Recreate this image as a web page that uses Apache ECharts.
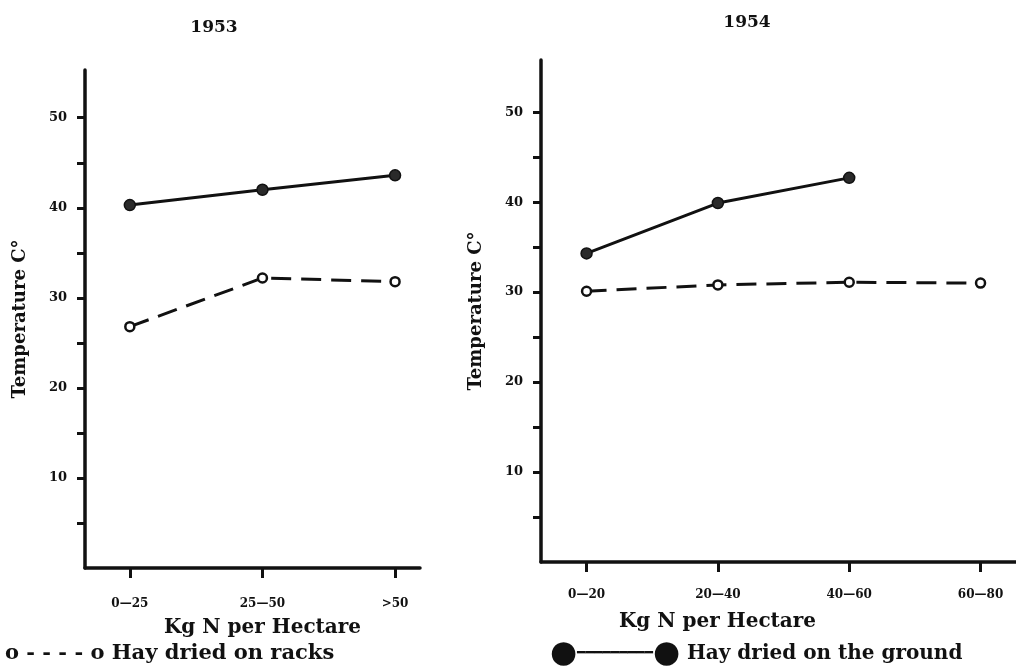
<!DOCTYPE html>
<html>
<head>
<meta charset="utf-8">
<script src="https://cdn.jsdelivr.net/npm/echarts@6/dist/echarts.min.js"></script>
<style>
  html, body { margin: 0; padding: 0; background: #fff; }
  #chart { width: 1016px; height: 669px; }
</style>
</head>
<body>
<div id="chart"></div>
<script>
// Surface temperature of hay heaps vs. nitrogen application, two seasons
const categories1953 = ['0\u201425', '25\u201450', '>50'];
const racks1953 = [26.8, 32.2, 31.8];
const ground1953 = [40.3, 42.0, 43.6];

const categories1954 = ['0\u201420', '20\u201440', '40\u201460', '60\u201480'];
const racks1954 = [30.1, 30.8, 31.1, 31.0];
const ground1954 = [34.3, 39.9, 42.7];

const yTickValues = [5, 10, 15, 20, 25, 30, 35, 40, 45, 50];
const yLabelValues = [10, 20, 30, 40, 50];

const FONT = '"DejaVu Serif", "Liberation Serif", serif';
const INK = '#111';

const chart = echarts.init(document.getElementById('chart'), null, { renderer: 'canvas' });

// pair each value with its category index so a value x-axis can place it
const toPoints = arr => arr.map((v, i) => [i, v]);

function xAxisFor(gridIndex, cats, min, max, namePad, labelMargin) {
  const idx = cats.map((_, i) => i);
  return {
    gridIndex: gridIndex,
    type: 'value',
    min: min,
    max: max,
    name: 'Kg N per Hectare',
    nameLocation: 'middle',
    nameGap: 50,
    nameTextStyle: { fontFamily: FONT, fontWeight: 'bold', fontSize: 20, color: INK, padding: namePad },
    axisLine: { show: true, onZero: false, lineStyle: { color: INK, width: 3.5 } },
    axisTick: { show: true, customValues: idx, length: 10, inside: false, lineStyle: { color: INK, width: 3 } },
    axisLabel: {
      customValues: idx,
      margin: labelMargin,
      fontFamily: FONT, fontWeight: 'bold', fontSize: 12, color: INK,
      formatter: v => cats[Math.round(v)]
    },
    splitLine: { show: false }
  };
}

function yAxisFor(gridIndex, max) {
  return {
    gridIndex: gridIndex,
    type: 'value',
    min: 0,
    max: max,
    name: 'Temperature C\u00B0',
    nameLocation: 'middle',
    nameGap: 56,
    nameRotate: 90,
    nameTextStyle: { fontFamily: FONT, fontWeight: 'bold', fontSize: 18, color: INK },
    axisLine: { show: true, onZero: false, lineStyle: { color: INK, width: 3.5 } },
    axisTick: { show: true, customValues: yTickValues, length: 8, lineStyle: { color: INK, width: 3 } },
    axisLabel: {
      customValues: yLabelValues,
      margin: 18,
      fontFamily: FONT, fontWeight: 'bold', fontSize: 13, color: INK
    },
    splitLine: { show: false }
  };
}

function groundSeries(x, y, data) {
  return {
    type: 'line', xAxisIndex: x, yAxisIndex: y, data: toPoints(data),
    symbol: 'circle', symbolSize: 11,
    itemStyle: { color: '#2a2a2a', borderColor: INK, borderWidth: 1.5 },
    lineStyle: { color: INK, width: 3, type: 'solid' },
    z: 3
  };
}

function racksSeries(x, y, data) {
  return {
    type: 'line', xAxisIndex: x, yAxisIndex: y, data: toPoints(data),
    symbol: 'circle', symbolSize: 9,
    itemStyle: { color: '#fff', borderColor: INK, borderWidth: 2.5 },
    lineStyle: { color: INK, width: 3, type: [20, 10] },
    z: 3
  };
}

const option = {
  backgroundColor: '#fff',
  animation: false,
  title: [
    { text: '1953', left: 209, top: 14, textAlign: 'center',
      textStyle: { fontFamily: FONT, fontWeight: 'bold', fontSize: 17, color: INK } },
    { text: '1954', left: 742, top: 9, textAlign: 'center',
      textStyle: { fontFamily: FONT, fontWeight: 'bold', fontSize: 17, color: INK } },
    { text: '{o|o} {d|- - - -} {o|o} Hay dried on racks', left: 0, top: 638,
      textStyle: {
        fontFamily: FONT, fontWeight: 'bold', fontSize: 21, color: INK,
        rich: {
          o: { fontFamily: FONT, fontWeight: 'bold', fontSize: 21, color: INK },
          d: { fontFamily: FONT, fontWeight: 'bold', fontSize: 21, color: INK }
        }
      } },
    { text: '{dot|\u25CF}{ln|\u2501\u2501\u2501\u2501\u2501\u2501\u2501\u2501\u2501}{dot|\u25CF} Hay dried on the ground', left: 545, top: 633,
      textStyle: {
        fontFamily: FONT, fontWeight: 'bold', fontSize: 20, color: INK,
        rich: {
          dot: { fontFamily: '"DejaVu Sans"', fontSize: 31, color: INK },
          ln: { fontFamily: '"DejaVu Sans Mono"', fontSize: 14, color: INK }
        }
      } }
  ],
  grid: [
    { left: 85, top: 70, width: 335, height: 498 },
    { left: 541, top: 60, width: 480, height: 502 }
  ],
  xAxis: [
    xAxisFor(0, categories1953, -0.338, 2.188, [0, 0, 0, 20], 30),
    xAxisFor(1, categories1954, -0.347, 3.27, [0, 122, 0, 0], 27)
  ],
  yAxis: [
    yAxisFor(0, 55.3),
    yAxisFor(1, 55.8)
  ],
  series: [
    groundSeries(0, 0, ground1953),
    racksSeries(0, 0, racks1953),
    groundSeries(1, 1, ground1954),
    racksSeries(1, 1, racks1954)
  ]
};

chart.setOption(option);
</script>
</body>
</html>
